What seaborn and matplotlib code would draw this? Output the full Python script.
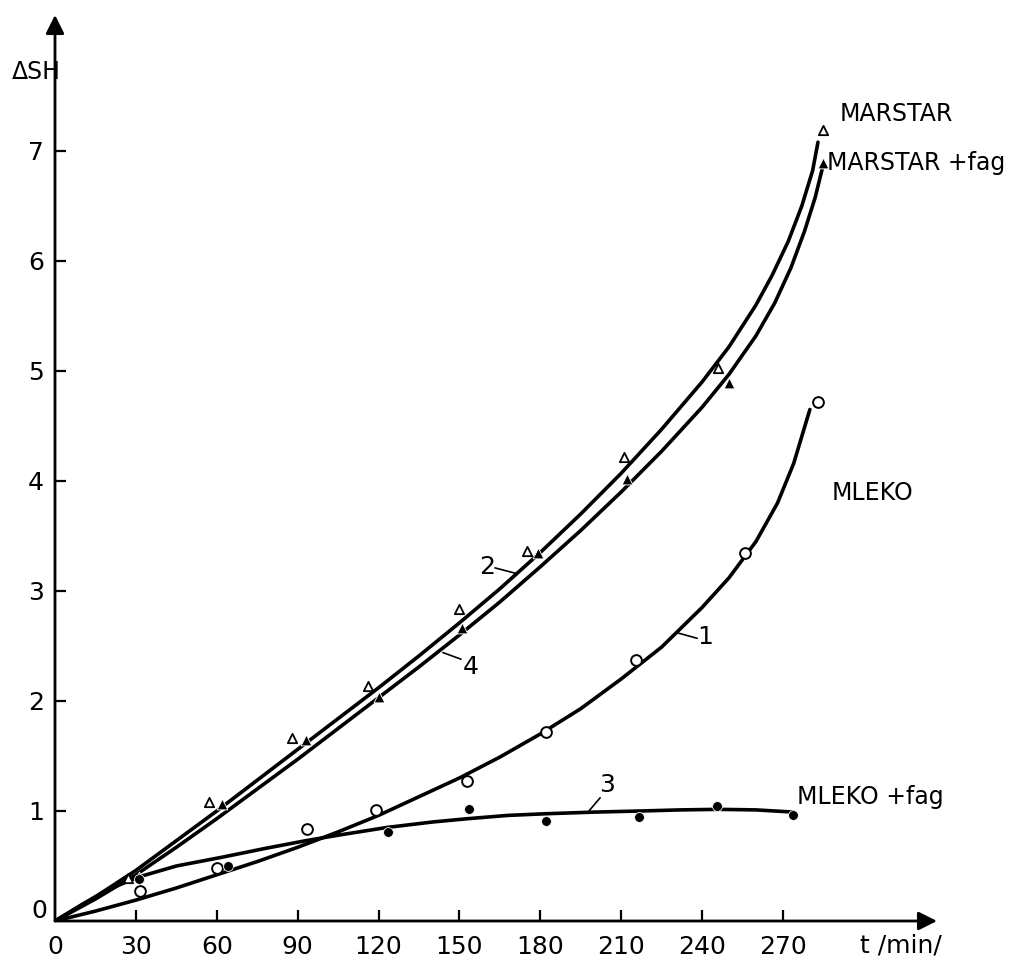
import matplotlib
matplotlib.use('Agg')
import matplotlib.pyplot as plt
import seaborn as sns
import pandas as pd

# smooth curves (t in min, delta SH)
t_marstar = [0, 15, 30, 45, 60, 75, 90, 105, 120, 135, 150, 165, 180, 195, 210, 225,
             240, 250, 260, 266, 272, 277, 281, 283]
y_marstar = [0, 0.22, 0.46, 0.73, 1.0, 1.28, 1.56, 1.84, 2.12, 2.41, 2.71, 3.02, 3.35, 3.7,
             4.07, 4.47, 4.9, 5.22, 5.6, 5.87, 6.18, 6.5, 6.82, 7.08]

t_marstar_fag = [0, 15, 30, 45, 60, 75, 90, 105, 120, 135, 150, 165, 180, 195, 210, 225,
                 240, 250, 260, 267, 273, 278, 282, 284.5]
y_marstar_fag = [0, 0.2, 0.42, 0.67, 0.93, 1.2, 1.47, 1.75, 2.03, 2.31, 2.6, 2.9, 3.22, 3.55,
                 3.9, 4.27, 4.67, 4.97, 5.32, 5.62, 5.94, 6.27, 6.58, 6.83]

t_mleko = [0, 15, 30, 45, 60, 75, 90, 105, 120, 135, 150, 165, 180, 195, 210, 225, 240,
           250, 260, 268, 274, 280]
y_mleko = [0, 0.09, 0.19, 0.3, 0.42, 0.54, 0.67, 0.81, 0.96, 1.13, 1.3, 1.49, 1.7, 1.93,
           2.2, 2.49, 2.85, 3.12, 3.45, 3.8, 4.16, 4.65]

t_mleko_fag = [0, 10, 20, 31, 45, 62, 78, 93, 105, 123, 140, 153, 168, 182, 200, 217,
               232, 246, 260, 274]
y_mleko_fag = [0, 0.15, 0.29, 0.4, 0.5, 0.58, 0.66, 0.73, 0.78, 0.85, 0.9, 0.93, 0.96,
               0.975, 0.99, 1.0, 1.01, 1.015, 1.01, 0.99]

# measured points
pt_marstar_t = [27, 57, 88, 116, 150, 175, 211, 246, 285]
pt_marstar_y = [0.39, 1.08, 1.66, 2.14, 2.84, 3.36, 4.22, 5.03, 7.19]
pt_marstar_fag_t = [31, 62, 93, 120, 151, 179, 212, 250, 285]
pt_marstar_fag_y = [0.4, 1.06, 1.65, 2.04, 2.66, 3.35, 4.02, 4.89, 6.89]
pt_mleko_t = [31.5, 60, 93.5, 119, 153, 182, 215.5, 256, 283]
pt_mleko_y = [0.27, 0.48, 0.84, 1.01, 1.27, 1.72, 2.37, 3.35, 4.72]
pt_mleko_fag_t = [31, 64, 123.5, 153.6, 182, 216.6, 245.5, 273.7]
pt_mleko_fag_y = [0.38, 0.5, 0.81, 1.02, 0.91, 0.95, 1.05, 0.96]

x_ticks = [0, 30, 60, 90, 120, 150, 180, 210, 240, 270]
y_ticks = [1, 2, 3, 4, 5, 6, 7]

curves = pd.concat([
    pd.DataFrame({'t': t_marstar, 'dsh': y_marstar, 'serie': 'MARSTAR'}),
    pd.DataFrame({'t': t_marstar_fag, 'dsh': y_marstar_fag, 'serie': 'MARSTAR +fag'}),
    pd.DataFrame({'t': t_mleko, 'dsh': y_mleko, 'serie': 'MLEKO'}),
    pd.DataFrame({'t': t_mleko_fag, 'dsh': y_mleko_fag, 'serie': 'MLEKO +fag'}),
])

sns.set_style('white')
plt.rcParams['font.family'] = ['DejaVu Sans']
plt.rcParams['text.color'] = 'black'
plt.rcParams['xtick.color'] = 'black'
plt.rcParams['ytick.color'] = 'black'

fig = plt.figure(figsize=(10.1, 9.6), dpi=100)
ax = fig.add_axes([55 / 1010, 39 / 960, 882 / 1010, 906 / 960])

sns.lineplot(data=curves, x='t', y='dsh', hue='serie', units='serie', estimator=None,
             palette={s: 'black' for s in curves['serie'].unique()},
             sort=False, lw=2.6, legend=False, ax=ax)

sns.scatterplot(x=pt_marstar_t, y=pt_marstar_y, marker='^', s=45, facecolor='white',
                edgecolor='black', linewidth=1.3, zorder=3, ax=ax)
sns.scatterplot(x=pt_marstar_fag_t, y=pt_marstar_fag_y, marker='^', s=60, color='black',
                zorder=3, ax=ax)
sns.scatterplot(x=pt_mleko_t, y=pt_mleko_y, marker='o', s=60, facecolor='white',
                edgecolor='black', linewidth=1.4, zorder=3, ax=ax)
sns.scatterplot(x=pt_mleko_fag_t, y=pt_mleko_fag_y, marker='o', s=50, color='black',
                zorder=3, ax=ax)

ax.set_xlim(0, 882 / 2.696)
ax.set_ylim(0, 906 / 110)
for sp in ax.spines.values():
    sp.set_visible(False)

# axes with arrows
arrow = dict(arrowstyle='-|>', lw=2, color='black', mutation_scale=28, shrinkA=0, shrinkB=0)
ax.annotate('', xy=(1, 0), xytext=(0, 0), xycoords='axes fraction', arrowprops=arrow)
ax.annotate('', xy=(0, 1), xytext=(0, 0), xycoords='axes fraction', arrowprops=arrow)

ax.set_xticks(x_ticks)
ax.set_xticklabels([str(v) for v in x_ticks])
ax.set_yticks(y_ticks)
ax.set_yticklabels([str(v) for v in y_ticks])
ax.tick_params(axis='both', direction='in', length=8, width=1.6, labelsize=18,
               bottom=True, left=True, labelcolor='black')
ax.tick_params(axis='x', pad=10)
ax.tick_params(axis='y', pad=8)
ax.xaxis.get_major_ticks()[0].tick1line.set_visible(False)
ax.set_xlabel('')
ax.set_ylabel('')

ax.text(-3, 0.09, '0', ha='right', va='center', fontsize=18)
fig.text(12 / 1010, 1 - 72 / 960, 'ΔSH', ha='left', va='center', fontsize=17)
ax.text(298.6, -0.22, 't /min/', ha='left', va='center', fontsize=18, clip_on=False)

# curve names
ax.text(291.2, 7.34, 'MARSTAR', ha='left', va='center', fontsize=17)
ax.text(286.5, 6.89, 'MARSTAR +fag', ha='left', va='center', fontsize=17)
ax.text(288.2, 3.89, 'MLEKO', ha='left', va='center', fontsize=17)
ax.text(275.2, 1.13, 'MLEKO +fag', ha='left', va='center', fontsize=17)

# curve numbers with leaders
numbers = [('1', 241, 2.58, (230.8, 238.2), (2.62, 2.57)),
           ('2', 160.2, 3.22, (163.2, 171), (3.21, 3.16)),
           ('4', 154.3, 2.31, (143.9, 150.6), (2.44, 2.38)),
           ('3', 204.7, 1.24, (202.2, 197.7), (1.12, 0.99))]
for txt, tx, ty, lx, ly in numbers:
    ax.text(tx, ty, txt, ha='center', va='center', fontsize=18)
    ax.plot(lx, ly, color='black', lw=1.2)

fig.savefig('out.png', dpi=100)
